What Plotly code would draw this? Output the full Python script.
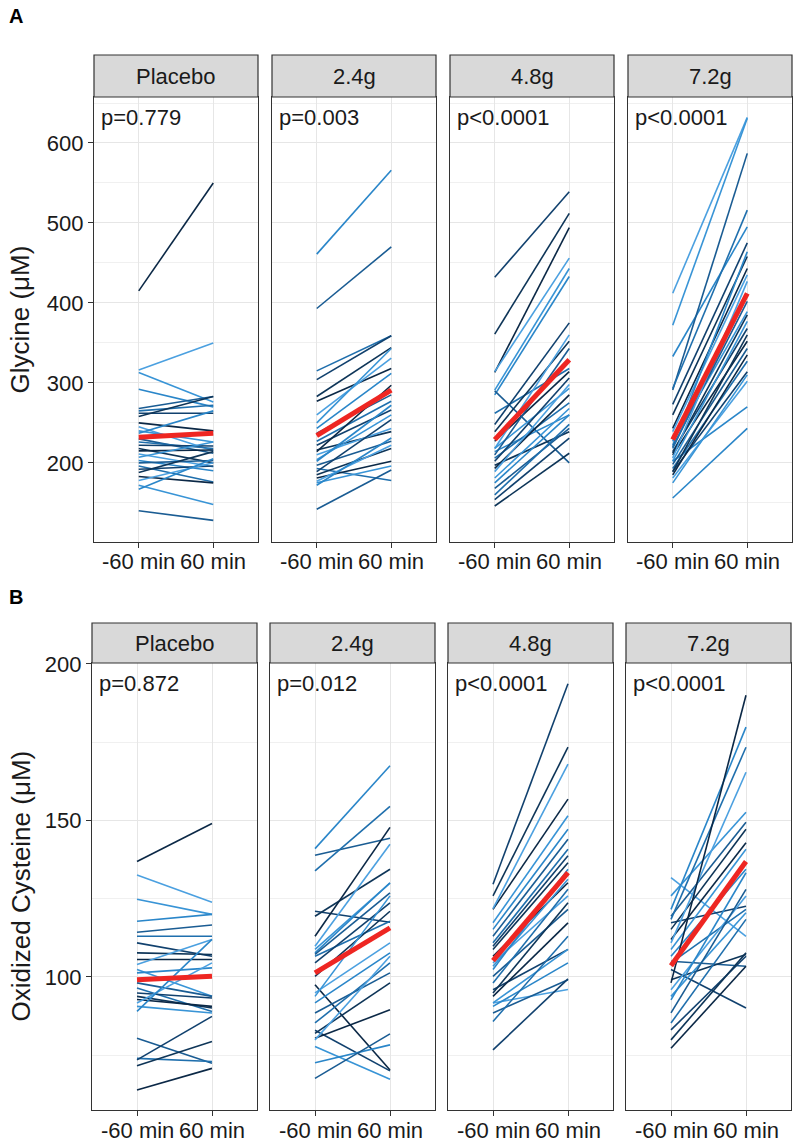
import plotly.graph_objects as go

# ---------------- data ----------------
groups = ["Placebo", "2.4g", "4.8g", "7.2g"]
time_labels = ["-60 min", "60 min"]

gly_pvals = ["p=0.779", "p=0.003", "p<0.0001", "p<0.0001"]
cys_pvals = ["p=0.872", "p=0.012", "p<0.0001", "p<0.0001"]

gly_placebo_pre = [415, 316, 313, 292, 268, 265, 262, 258, 250, 245, 240, 237, 230, 226, 222, 218, 215, 211, 207, 203, 200, 196, 192, 188, 183, 178, 172, 167, 140]
gly_placebo_post = [550, 350, 276, 270, 283, 272, 262, 283, 240, 215, 226, 265, 212, 218, 221, 200, 216, 195, 226, 190, 203, 176, 196, 214, 175, 200, 148, 205, 128]
gly_24_pre = [461, 393, 315, 304, 283, 277, 260, 250, 243, 237, 227, 222, 216, 214, 210, 204, 202, 197, 193, 189, 185, 181, 177, 175, 172, 142]
gly_24_post = [566, 470, 359, 359, 344, 318, 331, 343, 312, 285, 277, 266, 239, 297, 243, 260, 272, 227, 178, 254, 218, 202, 222, 196, 231, 191]
gly_48_pre = [432, 361, 313, 314, 291, 285, 290, 262, 248, 239, 227, 218, 218, 214, 210, 206, 202, 197, 193, 189, 181, 175, 168, 160, 154, 146]
gly_48_post = [539, 512, 494, 456, 443, 433, 200, 318, 375, 352, 314, 360, 293, 260, 343, 275, 306, 239, 285, 298, 268, 260, 243, 248, 231, 212]
gly_72_pre = [412, 372, 333, 291, 293, 273, 260, 243, 239, 227, 222, 220, 218, 214, 212, 210, 206, 202, 202, 198, 193, 189, 189, 185, 181, 175, 156]
gly_72_post = [632, 631, 495, 587, 516, 475, 458, 443, 435, 389, 464, 402, 410, 368, 385, 352, 427, 377, 270, 343, 327, 314, 360, 335, 302, 310, 243]
gly_mean_pre = [232, 234, 229, 229]
gly_mean_post = [237, 291, 329, 412]

cys_placebo_pre = [136.9, 132.6, 124.8, 117.8, 114.3, 113, 110.9, 107.7, 105.6, 104, 102.4, 101.3, 98.1, 96.5, 94.9, 93.8, 92.8, 91.7, 90.6, 89, 80.4, 74, 73.5, 71.6, 63.9]
cys_placebo_post = [149, 123.9, 120, 120, 116.6, 113, 106.6, 107.2, 105.6, 112, 93.8, 102.9, 93.8, 89, 93.3, 90.1, 90.6, 104.5, 88.5, 112, 72.4, 73, 87.4, 79.4, 70.8]
cys_24_pre = [141, 138.9, 133.9, 121, 119.4, 113, 109.8, 108.8, 107.7, 107.2, 106.6, 104.5, 100.2, 97.5, 94.9, 93.8, 91.7, 88.5, 85.3, 83, 82, 80.4, 79.9, 77.8, 72.6, 67.6]
cys_24_post = [167.5, 144.3, 154.5, 117.5, 134.4, 147.8, 142.4, 130, 130.1, 126.9, 117.8, 123.7, 121, 70.3, 110.9, 125.9, 107.7, 101.3, 104.5, 70, 98.1, 89.5, 106.6, 67.3, 78.3, 81.8]
cys_48_pre = [129.6, 125.9, 121.6, 121.8, 117.3, 115.2, 113, 110.9, 109.8, 108.8, 106.6, 104.5, 103.4, 102.4, 100.2, 98.1, 95.9, 94.9, 93.8, 91.7, 91.7, 90.6, 88.5, 85.8, 76.7]
cys_48_post = [193.7, 173.4, 156.8, 168, 151.5, 147.2, 144, 140.8, 138.7, 136.5, 130.1, 125.9, 131.2, 134.4, 121.6, 128, 108.8, 123.7, 117.3, 96, 108.8, 104.5, 99.1, 113, 99.4]
cys_72_pre = [131.7, 125.9, 121.6, 119.4, 118.4, 117.3, 115.2, 112, 110.9, 108.8, 106.6, 105, 104.5, 102.4, 99.1, 98.1, 95.9, 93.8, 92.7, 88.5, 85.3, 83.1, 79.9, 77.2]
cys_72_post = [113, 152.6, 179.8, 149.4, 173.4, 122.6, 147.2, 142.9, 165.4, 140.8, 134.4, 103.4, 121.6, 90.1, 107.2, 190, 125.9, 120.5, 133.3, 128, 118.4, 106.6, 107.7, 103.4]
cys_mean_pre = [99.1, 101.3, 105.2, 103.6]
cys_mean_post = [100.2, 115.7, 133.3, 136.9]

gly_pre = [gly_placebo_pre, gly_24_pre, gly_48_pre, gly_72_pre]
gly_post = [gly_placebo_post, gly_24_post, gly_48_post, gly_72_post]
cys_pre = [cys_placebo_pre, cys_24_pre, cys_48_pre, cys_72_pre]
cys_post = [cys_placebo_post, cys_24_post, cys_48_post, cys_72_post]

# ---------------- styling / layout ----------------
W, H = 796, 1145
FONT = "Arial, Liberation Sans, sans-serif"
palette = ["#0b2846", "#2a86c9", "#11416e", "#4ba0e0", "#1a5c93", "#0e3558", "#3894d6", "#1f6fad"]
RED = "#ee2622"
TXT = "#1a1a1a"

rows = [
    dict(pre=gly_pre, post=gly_post, mpre=gly_mean_pre, mpost=gly_mean_post, pv=gly_pvals,
         xl=[94, 272, 450, 628], pw=164, top=97, bot=542, strip=55,
         yr=[101, 657.5], dt=100, mdt=50, title="Glycine (μM)", label="A", label_y=16),
    dict(pre=cys_pre, post=cys_post, mpre=cys_mean_pre, mpost=cys_mean_post, pv=cys_pvals,
         xl=[92, 270, 448, 626], pw=165, top=663, bot=1110, strip=623,
         yr=[57.5, 200.3], dt=50, mdt=25, title="Oxidized Cysteine (μM)", label="B", label_y=597),
]

def px(x):
    return x / W

def py(y):
    return 1 - y / H

fig = go.Figure()
layout = {}
shapes = []
annotations = []

idx = 0
for r, row in enumerate(rows):
    for c in range(4):
        idx += 1
        xa = "xaxis" if idx == 1 else f"xaxis{idx}"
        ya = "yaxis" if idx == 1 else f"yaxis{idx}"
        xr = "x" if idx == 1 else f"x{idx}"
        yr_ = "y" if idx == 1 else f"y{idx}"
        x0 = row["xl"][c]
        x1 = x0 + row["pw"]
        layout[xa] = dict(
            domain=[px(x0), px(x1)], anchor=yr_, range=[0.4, 2.6],
            tickmode="array", tickvals=[1, 2], ticktext=["", ""],
            showgrid=True, gridcolor="#e6e6e6", gridwidth=1.1,
            showline=True, mirror=True, linecolor="#333333", linewidth=1.2,
            ticks="outside", ticklen=5, tickcolor="#333333",
            tickfont=dict(family=FONT, size=22, color=TXT),
            zeroline=False, fixedrange=True, automargin=False,
        )
        layout[ya] = dict(
            domain=[py(row["bot"]), py(row["top"])], anchor=xr, range=row["yr"],
            tickmode="linear", tick0=0, dtick=row["dt"],
            showgrid=True, gridcolor="#e6e6e6", gridwidth=1.1,
            minor=dict(dtick=row["mdt"], tick0=0, showgrid=True, gridcolor="#f0f0f0", gridwidth=0.7),
            showline=True, mirror=True, linecolor="#333333", linewidth=1.2,
            ticks="outside" if c == 0 else "", ticklen=5, tickcolor="#333333",
            showticklabels=(c == 0),
            tickfont=dict(family=FONT, size=22, color=TXT),
            zeroline=False, fixedrange=True, automargin=False,
        )
        pre = row["pre"][c]
        post = row["post"][c]
        for i, (a, b) in enumerate(zip(pre, post)):
            fig.add_trace(go.Scatter(
                x=[1, 2], y=[a, b], mode="lines",
                line=dict(color=palette[(i * 3 + c) % len(palette)], width=1.6),
                xaxis=xr, yaxis=yr_, showlegend=False, hoverinfo="skip"))
        fig.add_trace(go.Scatter(
            x=[1, 2], y=[row["mpre"][c], row["mpost"][c]], mode="lines",
            line=dict(color=RED, width=5),
            xaxis=xr, yaxis=yr_, showlegend=False, hoverinfo="skip"))
        # x tick labels (placed as text so they stay inside the page)
        for k, lab in enumerate(time_labels):
            annotations.append(dict(xref=xr, yref="paper", x=k + 1, y=py(row["bot"] + 20),
                                    text=lab, showarrow=False, xanchor="center", yanchor="middle",
                                    font=dict(family=FONT, size=22, color=TXT)))
        # strip
        shapes.append(dict(type="rect", xref="paper", yref="paper",
                           x0=px(x0), x1=px(x1), y0=py(row["top"]), y1=py(row["strip"]),
                           fillcolor="#d9d9d9", line=dict(color="#333333", width=1.2)))
        annotations.append(dict(xref="paper", yref="paper", x=px((x0 + x1) / 2),
                                y=py((row["top"] + row["strip"]) / 2), text=groups[c],
                                showarrow=False, xanchor="center", yanchor="middle",
                                font=dict(family=FONT, size=22, color=TXT)))
        annotations.append(dict(xref="paper", yref="paper", x=px(x0 + 5),
                                y=py(row["top"] + 20), text=row["pv"][c],
                                showarrow=False, xanchor="left", yanchor="middle",
                                font=dict(family=FONT, size=22, color=TXT)))
    annotations.append(dict(xref="paper", yref="paper", x=px(20),
                            y=py((row["top"] + row["bot"]) / 2), text=row["title"],
                            textangle=-90, showarrow=False, xanchor="center", yanchor="middle",
                            font=dict(family=FONT, size=26, color=TXT)))
    annotations.append(dict(xref="paper", yref="paper", x=px(7),
                            y=py(row["label_y"]), text="<b>" + row["label"] + "</b>",
                            showarrow=False, xanchor="left", yanchor="middle",
                            font=dict(family=FONT, size=20, color="#000000")))

fig.update_layout(
    template="none",
    width=W, height=H, margin=dict(l=0, r=0, t=0, b=0, autoexpand=False),
    paper_bgcolor="white", plot_bgcolor="white",
    shapes=shapes, annotations=annotations, showlegend=False,
    **layout,
)

fig.write_html("out.html", config={"displayModeBar": False},
               post_script="document.body.style.margin='0';document.body.style.overflow='hidden';")
